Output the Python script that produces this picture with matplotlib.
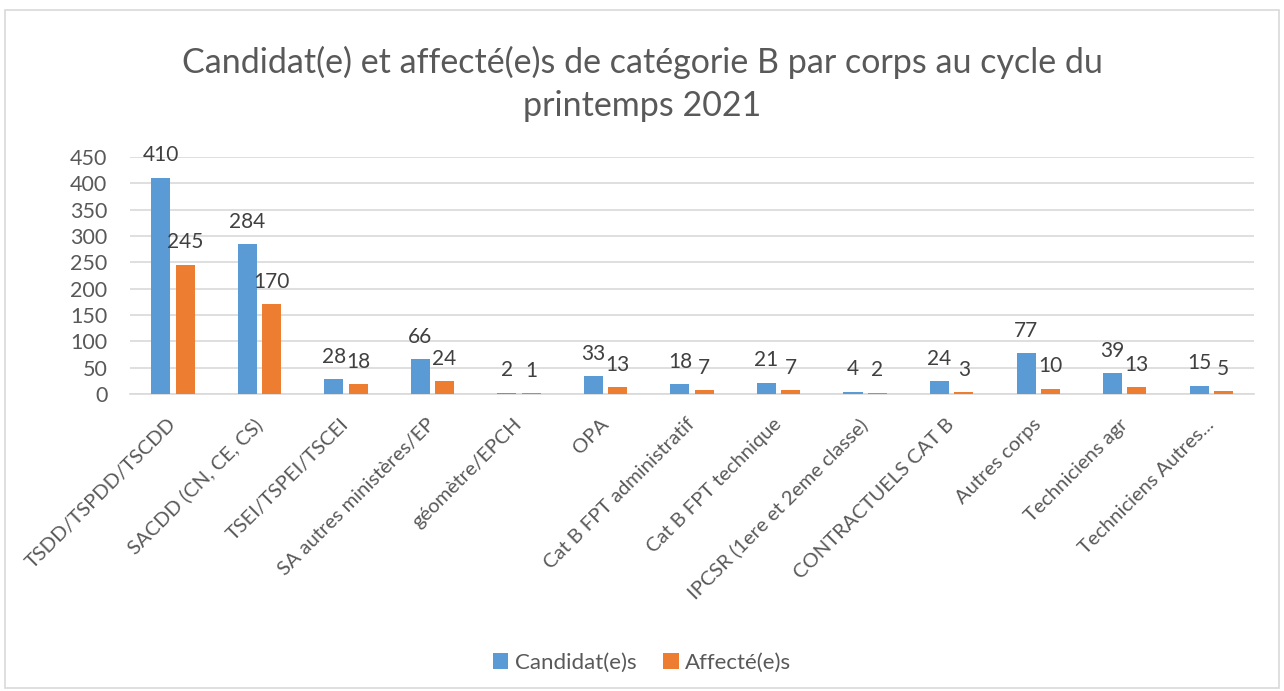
import matplotlib.pyplot as plt
import matplotlib.patches as mpatches
import numpy as np

plt.rcParams['font.family'] = ['Lato', 'DejaVu Sans']

categories = ['TSDD/TSPDD/TSCDD', 'SACDD (CN, CE, CS)', 'TSEI/TSPEI/TSCEI',
              'SA autres ministères/EP', 'géomètre/EPCH', 'OPA',
              'Cat B FPT administratif', 'Cat B FPT technique',
              'IPCSR (1ere et 2eme classe)', 'CONTRACTUELS CAT B',
              'Autres corps', 'Techniciens agr', 'Techniciens Autres...']
candidats = [410, 284, 28, 66, 2, 33, 18, 21, 4, 24, 77, 39, 15]
affectes = [245, 170, 18, 24, 1, 13, 7, 7, 2, 3, 10, 13, 5]
yticks = [0, 50, 100, 150, 200, 250, 300, 350, 400, 450]

blue = '#5B9BD5'
orange = '#ED7D31'
txt = '#595959'

fig = plt.figure(figsize=(12.84, 6.91), dpi=100)
ax = fig.add_axes([0.101, 0.430, 0.876, 0.343])

x = np.arange(len(categories))
w = 0.22
b1 = ax.bar(x - 0.14, candidats, w, color=blue, label='Candidat(e)s', zorder=3)
b2 = ax.bar(x + 0.14, affectes, w, color=orange, label='Affecté(e)s', zorder=3)

for bars in (b1, b2):
    for r in bars:
        h = r.get_height()
        ax.annotate(str(int(h)), (r.get_x() + r.get_width() / 2, h),
                    xytext=(0, 9), textcoords='offset points',
                    ha='center', va='bottom', fontsize=15, color='#404040')

ax.set_xlim(-0.5, len(categories) - 0.5)
ax.set_ylim(0, 450)
ax.set_yticks(yticks)
ax.yaxis.grid(True, color='#d9d9d9', lw=1.2, zorder=0)
ax.tick_params(axis='y', length=0, pad=16, labelsize=15.5, labelcolor=txt)
ax.tick_params(axis='x', length=0, pad=20, labelsize=14.5, labelcolor=txt)
for s in ['top', 'right', 'left']:
    ax.spines[s].set_visible(False)
ax.spines['bottom'].set_color('#d9d9d9')
ax.spines['bottom'].set_linewidth(1.2)

ax.set_xticks(x)
ax.set_xticklabels(categories, rotation=45, ha='right', va='center', rotation_mode='anchor')

fig.text(0.5, 0.879, 'Candidat(e) et affecté(e)s de catégorie B par corps au cycle du\nprintemps 2021',
         ha='center', va='center', fontsize=24.5, color=txt, linespacing=1.42)

fig.legend(handles=[b1, b2], loc='center', bbox_to_anchor=(0.5, 0.041), ncol=2,
           frameon=False, fontsize=16, labelcolor=txt, handlelength=0.7,
           handleheight=0.7, handletextpad=0.3, columnspacing=1.2)

fig.patches.append(mpatches.Rectangle((0.004, 0.004), 0.992, 0.982, transform=fig.transFigure,
                                      fill=False, edgecolor='#d9d9d9', lw=1.2))

fig.savefig('out.png', dpi=100)
